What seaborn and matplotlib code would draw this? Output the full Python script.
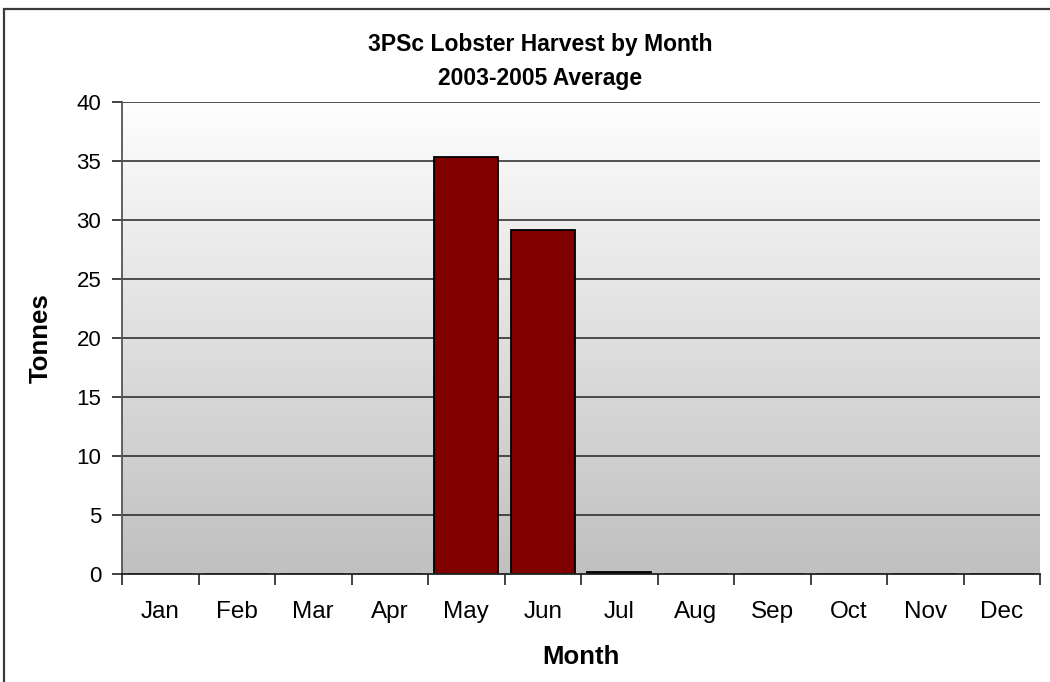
import numpy as np
import pandas as pd
import matplotlib
matplotlib.use("Agg")
import matplotlib.pyplot as plt
from matplotlib.patches import Rectangle
from matplotlib.colors import LinearSegmentedColormap
import seaborn as sns

# Average monthly harvest (tonnes), 2003-2005
months = ["Jan", "Feb", "Mar", "Apr", "May", "Jun",
          "Jul", "Aug", "Sep", "Oct", "Nov", "Dec"]
tonnes = [0, 0, 0, 0, 35.3, 29.15, 0.2, 0, 0, 0, 0, 0]
y_ticks = [0, 5, 10, 15, 20, 25, 30, 35, 40]

df = pd.DataFrame({"Month": months, "Tonnes": tonnes})

sns.set_theme(style="white")
plt.rcParams["font.family"] = ["Liberation Sans", "DejaVu Sans"]
plt.rcParams["text.color"] = "black"
plt.rcParams["axes.labelcolor"] = "black"

W, H = 1050, 682
fig = plt.figure(figsize=(W / 100, H / 100), dpi=100)
fig.patch.set_facecolor("white")

# Chart frame (partly clipped at right and bottom)
fig.add_artist(Rectangle((4 / W, -0.05), 1.2, 1 - 9 / H + 0.05,
                         transform=fig.transFigure, fill=False,
                         edgecolor="#3a3a3a", linewidth=1.6))

ax = fig.add_axes([122 / W, 1 - 574 / H, 918 / W, 472 / H])

# Vertical gradient in the plotting area: white at top to grey at bottom
grad = LinearSegmentedColormap.from_list("bg", ["#c0c0c0", "#fefefe"])
ax.imshow(np.linspace(0, 1, 256).reshape(-1, 1), aspect="auto", cmap=grad,
          origin="lower", extent=(-0.5, 11.5, 0, 40), zorder=0)

sns.barplot(data=df, x="Month", y="Tonnes", order=months, color="#800000",
            edgecolor="black", linewidth=1.3, width=0.84, saturation=1,
            ax=ax, zorder=3)

ax.set_xlim(-0.5, 11.5)
ax.set_ylim(0, 40)
ax.set_yticks(y_ticks)
ax.set_yticklabels([str(t) for t in y_ticks], fontsize=16)

# Category labels at centres, tick marks at category boundaries
ax.set_xticks(range(len(months)))
ax.set_xticklabels(months, fontsize=17.5)
ax.tick_params(axis="x", which="major", bottom=True, length=0, pad=19.5,
               labelcolor="black")
ax.set_xticks(np.arange(-0.5, 12, 1), minor=True)
ax.tick_params(axis="x", which="minor", bottom=True, length=8, width=1.2,
               color="#222222", direction="out")
ax.tick_params(axis="y", left=True, length=7, width=1.2, color="#222222",
               direction="out", pad=8, labelcolor="black")

for t in y_ticks[1:]:
    ax.axhline(t, color="#222222", linewidth=1.1, zorder=1)

for side in ("top", "right"):
    ax.spines[side].set_visible(False)
ax.spines["left"].set_color("#555555")
ax.spines["left"].set_linewidth(1.3)
ax.spines["bottom"].set_color("#222222")
ax.spines["bottom"].set_linewidth(1.3)
ax.spines["left"].set_zorder(4)
ax.spines["bottom"].set_zorder(4)

ax.set_xlabel("Month", fontsize=18.5, fontweight="bold", labelpad=15.5)
ax.set_ylabel("Tonnes", fontsize=18.5, fontweight="bold", labelpad=17)

fig.text(540 / W, 1 - 45 / H, "3PSc Lobster Harvest by Month", ha="center",
         va="center", fontsize=16.5, fontweight="bold")
fig.text(540 / W, 1 - 78 / H, "2003-2005 Average", ha="center",
         va="center", fontsize=16.5, fontweight="bold")

fig.savefig("out.png", dpi=100, facecolor="white")
